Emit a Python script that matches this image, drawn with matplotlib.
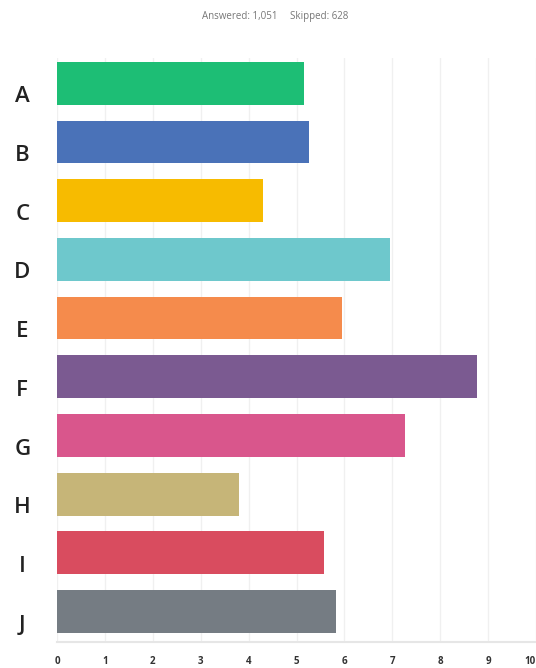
import matplotlib
matplotlib.use("Agg")
import matplotlib.pyplot as plt
from matplotlib.transforms import ScaledTranslation

# ================= data =================
CATEGORIES = ["A", "B", "C", "D", "E", "F", "G", "H", "I", "J"]
VALUES = [5.15, 5.26, 4.30, 6.96, 5.96, 8.77, 7.26, 3.81, 5.58, 5.83]
COLORS = ["#1dbe75", "#4a72b8", "#f7bb00", "#6ec8cc", "#f58b4c",
          "#7b5a91", "#d9568c", "#c6b578", "#d94c5f", "#757c83"]
X_TICKS = list(range(0, 11))
ANSWERED = 1051
SKIPPED = 628

plt.rcParams["font.family"] = ["Open Sans", "DejaVu Sans"]

fig = plt.figure(figsize=(5.36, 6.68), dpi=100)
ax = fig.add_axes([57 / 536, 1 - 642 / 668, 479 / 536, 584 / 668])

ypos = list(range(len(CATEGORIES)))
ax.barh(ypos, VALUES, height=0.73, color=COLORS, zorder=3)

ax.set_xlim(0, 10)
ax.set_ylim(9.52, -0.43)

# category letters, centred in the left margin and sitting a bit low
ax.set_yticks(ypos)
ax.set_yticklabels(CATEGORIES, fontsize=16, color="#222222",
                   fontweight="semibold", ha="center")
ax.tick_params(axis="y", length=0, pad=25)
drop = ScaledTranslation(0, -8 / 72, fig.dpi_scale_trans)
for lab in ax.get_yticklabels():
    lab.set_transform(lab.get_transform() + drop)

ax.set_xticks(X_TICKS)
ax.set_xticklabels([str(t) for t in X_TICKS], fontsize=7, color="#333333",
                   fontweight="bold")
ax.tick_params(axis="x", length=0, pad=10)
# keep the last label inside the canvas
ax.get_xticklabels()[-1].set_ha("right")

ax.grid(axis="x", color="#f0f0f0", linewidth=1, zorder=0)
for side in ["top", "right", "left"]:
    ax.spines[side].set_visible(False)
ax.spines["bottom"].set_color("#e6e6e6")
ax.spines["bottom"].set_linewidth(1.5)

fig.text(275 / 536, 1 - 17 / 668,
         f"Answered: {ANSWERED:,}     Skipped: {SKIPPED}",
         ha="center", va="center", fontsize=7, color="#777777")

fig.savefig("out.png", dpi=100)
